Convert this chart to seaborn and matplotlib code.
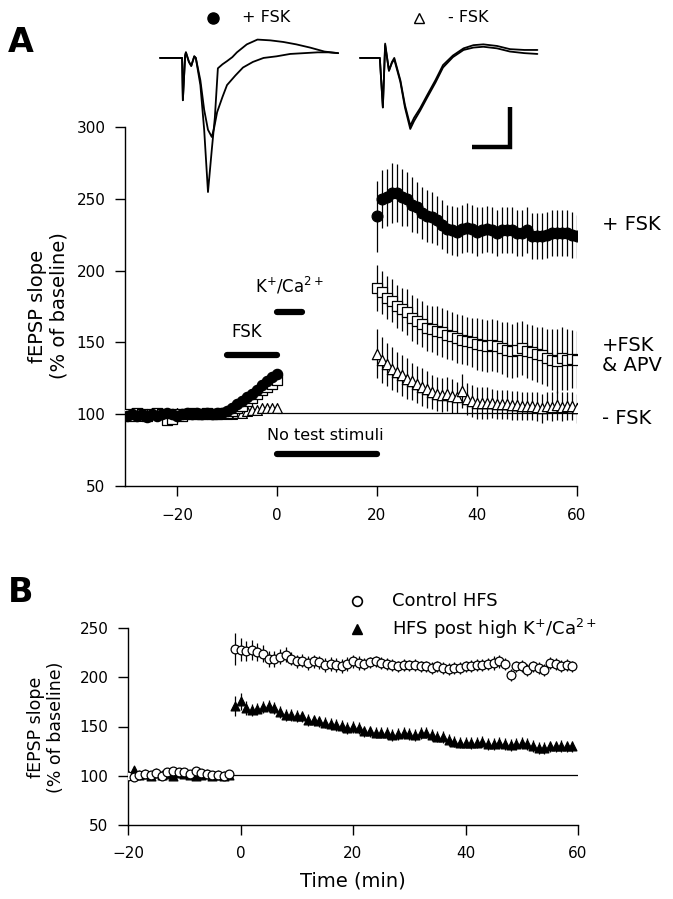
import numpy as np
import matplotlib.pyplot as plt
import seaborn as sns
from matplotlib.lines import Line2D

# ---- panel A, example traces (ms, mV) ----
tr1_post_t = [0, 2.9, 3.0, 3.3, 3.4, 3.8, 4.1, 4.5, 4.7, 5.3, 5.8, 6.3, 6.8, 7.2, 7.6, 8.2, 8.8, 9.5,
              10.1, 11.4, 12.8, 14.5, 16.2, 17.9, 19.7, 21.6, 23.4]
tr1_post_v = [0, 0, -0.53, 0.03, 0.07, -0.05, -0.10, 0.02, 0.0, -0.34, -0.90, -1.68, -1.15, -0.75, -0.13,
              -0.08, -0.04, 0.01, 0.07, 0.17, 0.23, 0.22, 0.20, 0.17, 0.13, 0.08, 0.06]
tr1_pre_t = [0, 2.9, 3.0, 3.3, 3.4, 3.8, 4.1, 4.5, 4.7, 5.3, 5.8, 6.3, 6.8, 7.1, 7.5, 8.2, 8.8, 9.9,
             10.9, 12.2, 13.6, 15.3, 17.1, 18.9, 20.7, 22.1, 23.4]
tr1_pre_v = [0, 0, -0.53, 0.03, 0.07, -0.05, -0.10, 0.02, 0.0, -0.28, -0.65, -0.90, -0.99, -0.88, -0.68,
             -0.49, -0.34, -0.22, -0.12, -0.05, 0.0, 0.02, 0.05, 0.06, 0.07, 0.07, 0.06]
tr2_t = [0, 2.6, 3.0, 3.3, 3.8, 4.2, 4.5, 5.3, 5.9, 6.6, 7.1, 7.9, 8.8, 9.9, 10.9, 12.2, 13.6, 14.9,
         16.2, 18.0, 19.7, 21.6, 23.3]
tr2_post_v = [0, 0, -0.62, 0.18, -0.16, -0.05, 0, -0.28, -0.59, -0.85, -0.75, -0.63, -0.47, -0.28,
              -0.09, 0.03, 0.12, 0.16, 0.17, 0.15, 0.11, 0.10, 0.10]
tr2_pre_v = [0, 0, -0.62, 0.16, -0.16, -0.06, -0.02, -0.30, -0.62, -0.89, -0.79, -0.66, -0.50, -0.31,
             -0.12, 0.01, 0.10, 0.13, 0.14, 0.12, 0.08, 0.06, 0.05]
bar_ms = 5
bar_mv = 0.5

# ---- panel A, fEPSP slope (% of baseline) ----
time_base_a = list(range(-30, 1))
time_post_a = list(range(20, 61))
fsk_base = [99, 100, 99, 100, 98, 100, 99, 100, 101, 100, 99, 100, 101, 100, 101, 100, 101, 100, 101, 101,
            102, 104, 107, 109, 112, 114, 117, 120, 123, 126, 128]
fsk_post = [237.7, 250, 251, 254, 254, 251, 250, 246, 244, 240, 238, 237, 235, 232, 229, 228, 227, 229, 230,
            229, 227, 228, 229, 228, 226, 228, 228, 228, 226, 226, 228, 224, 224, 224, 225, 226, 226, 226,
            226, 225, 224]
fsk_err = [25, 20, 20, 21, 20, 20, 19, 19, 18, 18, 18, 18, 17, 17, 17, 17, 17, 17, 17, 17, 17,
           16, 16, 16, 16, 16, 16, 16, 16, 16, 16, 16, 16, 16, 16, 16, 16, 16, 16, 16, 15]
apv_base = [100, 99, 101, 100, 99, 100, 101, 100, 96, 97, 100, 99, 100, 101, 100, 100, 101, 100, 100, 101,
            101, 102, 104, 106, 109, 111, 114, 117, 119, 121, 124]
apv_post = [188, 185, 181, 179, 175, 173, 171, 167, 165, 162.5, 160, 159, 158, 157, 155.5, 154.5, 153, 152,
            151, 150, 149, 148.4, 147.5, 148.4, 147.5, 146, 145, 144, 145, 146, 144, 143, 141.7, 141, 139.4,
            138, 137, 139, 138, 138.5, 138]
apv_err = [16, 15, 15, 15, 15, 15, 16, 16, 16, 16, 16, 16, 17, 17, 17, 17, 17, 17, 17, 17,
           18, 18, 18, 18, 18, 18, 19, 19, 19, 19, 19, 19, 19, 20, 20, 21, 22, 22, 21, 20, 20]
nofsk_base = [100, 101, 100, 99, 100, 101, 100, 100, 99, 100, 101, 100, 100, 101, 100, 100, 101, 100, 100, 100,
              100, 100, 101, 101, 102, 103, 103, 104, 104, 104, 104]
nofsk_post = [142, 138, 134.7, 131.7, 129.4, 127, 124.8, 123, 120.8, 119, 117.4, 115.5, 114, 113.2, 114, 112.7,
              111.7, 116, 110.4, 109.2, 108, 108, 107.6, 107.6, 107, 107, 107, 106.3, 106.3, 105.8, 105.8,
              105.8, 105.3, 104, 105.8, 105.3, 106.3, 105.3, 105.8, 105.8, 104]
nofsk_err = [17, 16, 15, 15, 14, 14, 14, 13, 13, 13, 13, 12, 12, 12, 12, 12, 11, 12, 11, 11,
             11, 11, 11, 10, 10, 10, 10, 10, 10, 10, 10, 10, 10, 10, 10, 10, 10, 10, 10, 10, 10]

# ---- panel B ----
time_base_b = list(range(-20, -1))
time_post_b = list(range(-1, 60))
ctrl_base = [100, 99, 101, 102, 101, 103, 100, 104, 105, 104, 104, 102, 105, 103, 102, 101, 101, 100, 102]
hfs_base = [101, 106, 101, 102, 100, 103, 101, 102, 100, 103, 102, 101, 100, 101, 102, 100, 101, 100, 101]
ctrl_post = [228.6, 228, 227, 228, 226, 224, 218.5, 218.5, 221, 223, 219, 216, 217, 214.4, 216, 215, 212.7,
             213.7, 212.7, 211.7, 213.7, 216, 214.4, 213.7, 215, 216, 214.4, 213.4, 212.7, 211, 212.7, 212,
             212.7, 211, 211, 209.3, 211, 209.3, 208.3, 209.3, 209.3, 211, 211.7, 212.7, 212.7, 213.7, 214.4,
             216, 213.7, 202.5, 211, 211.7, 207.6, 211, 209.3, 207.6, 214.4, 213.7, 211.7, 212.7, 211]
ctrl_err = [16, 12, 10, 10, 9, 9, 8, 8, 8, 8, 7, 7, 7, 7, 7, 7, 7, 7, 7, 7,
            7, 7, 7, 6, 6, 6, 6, 6, 6, 6, 6, 6, 6, 6, 6, 6, 6, 6, 6, 6,
            6, 6, 6, 6, 6, 6, 7, 7, 6, 6, 6, 6, 6, 6, 6, 6, 6, 6, 6, 6, 6]
hfs_post = [171, 175.4, 168.6, 167, 168, 170, 171, 169, 165, 162, 161.5, 160.8, 160.2, 156.8, 156.1, 155.1,
            154, 152.7, 151.7, 150.7, 148.3, 149.3, 148.3, 145, 145, 143.9, 143.9, 143.2, 141.5, 142.5, 143.2,
            142.5, 141.5, 143.2, 143.9, 141.5, 139.8, 139.2, 136.4, 134.7, 133.7, 133.7, 133, 133.7, 134.7,
            132.4, 132.4, 133, 132.4, 131.4, 132.4, 133, 132.4, 130.3, 128, 128, 129.7, 129.7, 130.3, 129.7,
            129.7]
hfs_err = [10, 9, 7, 6, 6, 6, 6, 6, 6, 6, 6, 6, 6, 6, 6, 6, 6, 6, 6, 6,
           6, 6, 6, 6, 6, 6, 6, 6, 6, 6, 6, 6, 6, 6, 6, 6, 6, 6, 6, 6,
           6, 6, 6, 6, 6, 6, 6, 6, 6, 6, 6, 6, 6, 6, 6, 6, 6, 6, 6, 6, 6]

sns.set_style('ticks')
plt.rcParams['font.family'] = ['DejaVu Sans']
plt.rcParams['axes.linewidth'] = 1.0
for key in ['text.color', 'axes.labelcolor', 'xtick.color', 'ytick.color', 'axes.edgecolor']:
    plt.rcParams[key] = 'black'

W, H = 673, 899
fig = plt.figure(figsize=(W / 100, H / 100), dpi=100)


def box(x0, y0, x1, y1):
    # pixel box (top-left origin) -> figure fraction rect
    return [x0 / W, 1 - y1 / H, (x1 - x0) / W, (y1 - y0) / H]


def series(ax, t, v, err, marker, face, size, z):
    t = np.asarray(t, float)
    v = np.asarray(v, float)
    if err is not None:
        e = np.asarray(err, float)
        ax.vlines(t, v - e, v + e, color='black', lw=0.9, zorder=z)
    sns.scatterplot(x=t, y=v, marker=marker, s=size, color=face, edgecolor='black',
                    linewidth=0.9, ax=ax, zorder=z + 0.5, legend=False)


# ---------------- panel A ----------------
axA = fig.add_axes(box(125, 127, 577, 486))
axA.set_facecolor('none')
axA.hlines(101, 0, 60, color='black', lw=0.9, zorder=1)
# baseline: open symbols underneath, filled circles on top
series(axA, time_base_a, nofsk_base, None, '^', 'white', 50, 3)
series(axA, time_base_a, apv_base, None, 's', 'white', 50, 4)
series(axA, time_base_a, fsk_base, None, 'o', 'black', 55, 5)
series(axA, time_post_a, fsk_post, fsk_err, 'o', 'black', 60, 3)
series(axA, time_post_a, apv_post, apv_err, 's', 'white', 55, 4)
series(axA, time_post_a, nofsk_post, nofsk_err, '^', 'white', 55, 5)

axA.set_xlim(-30.4, 60)
axA.set_ylim(50, 300)
axA.set_xticks([-20, 0, 20, 40, 60])
axA.set_yticks([50, 100, 150, 200, 250, 300])
axA.tick_params(direction='out', length=7, width=1, labelsize=11, pad=7)
axA.tick_params(axis='x', pad=9)
sns.despine(ax=axA)

# treatment bars
for x0, x1, y in [(-10, 0, 141), (0, 5, 171), (0, 20, 72)]:
    axA.plot([x0, x1], [y, y], color='black', lw=4.5, solid_capstyle='round')
axA.text(-6, 157, 'FSK', ha='center', va='center', fontsize=12)
axA.text(2.6, 189, r'K$^{+}$/Ca$^{2+}$', ha='center', va='center', fontsize=12)
axA.text(9.6, 85, 'No test stimuli', ha='center', va='center', fontsize=11.5)

# right-hand labels
axA.text(65, 232, '+ FSK', ha='left', va='center', fontsize=14, clip_on=False)
axA.text(65, 141, '+FSK\n& APV', ha='left', va='center', fontsize=14, clip_on=False, linespacing=1.1)
axA.text(65, 97, '- FSK', ha='left', va='center', fontsize=14, clip_on=False)

fig.text(48 / W, 1 - 306 / H, 'fEPSP slope\n(% of baseline)', rotation=90, ha='center', va='center',
         fontsize=14, linespacing=1.15)

# ---------------- traces (drawn above panel A) ----------------
for left, curves in [(155, [(tr1_post_t, tr1_post_v), (tr1_pre_t, tr1_pre_v)]),
                     (355, [(tr2_t, tr2_post_v), (tr2_t, tr2_pre_v)])]:
    tax = fig.add_axes(box(left, 30, left + 190, 200))
    tax.set_facecolor('none')
    for tt, vv in curves:
        sns.lineplot(x=tt, y=vv, ax=tax, color='black', lw=1.3, sort=False, estimator=None)
    tax.set_xlim(-0.66, 24.3)
    tax.set_ylim(-1.78, 0.35)
    tax.axis('off')
    if left == 355:
        cx, cy = 19.7, -1.12
        tax.plot([cx - bar_ms, cx, cx], [cy, cy, cy + bar_mv], color='black', lw=3.2,
                 solid_joinstyle='miter', solid_capstyle='butt')

# top key
fig.add_artist(Line2D([213 / W], [1 - 18 / H], marker='o', ms=8, color='black', transform=fig.transFigure))
fig.text(242 / W, 1 - 18 / H, '+ FSK', ha='left', va='center', fontsize=11.5)
fig.add_artist(Line2D([419 / W], [1 - 18 / H], marker='^', ms=7, mfc='white', mec='black', mew=1,
                      transform=fig.transFigure))
fig.text(448 / W, 1 - 18 / H, '- FSK', ha='left', va='center', fontsize=11.5)

fig.text(21 / W, 1 - 42 / H, 'A', ha='center', va='center', fontsize=24, fontweight='bold')
fig.text(21 / W, 1 - 593 / H, 'B', ha='center', va='center', fontsize=24, fontweight='bold')

# ---------------- panel B ----------------
axB = fig.add_axes(box(128, 628, 578, 825))
axB.hlines(101, -1.5, 60, color='black', lw=0.9, zorder=1)
series(axB, time_base_b, hfs_base, None, '^', 'black', 40, 3)
series(axB, time_base_b, ctrl_base, None, 'o', 'white', 40, 4)
series(axB, time_post_b, hfs_post, hfs_err, '^', 'black', 40, 3)
series(axB, time_post_b, ctrl_post, ctrl_err, 'o', 'white', 40, 4)

axB.set_xlim(-20, 60)
axB.set_ylim(50, 250)
axB.set_xticks([-20, 0, 20, 40, 60])
axB.set_yticks([50, 100, 150, 200, 250])
axB.tick_params(direction='out', length=7, width=1, labelsize=11, pad=7)
axB.tick_params(axis='x', pad=8)
sns.despine(ax=axB)
axB.set_xlabel('Time (min)', fontsize=14, labelpad=8)

fig.text(46 / W, 1 - 727 / H, 'fEPSP slope\n(% of baseline)', rotation=90, ha='center', va='center',
         fontsize=12.5, linespacing=1.15)

fig.add_artist(Line2D([357 / W], [1 - 601 / H], marker='o', ms=7, mfc='white', mec='black', mew=1.2,
                      transform=fig.transFigure))
fig.text(392 / W, 1 - 601 / H, 'Control HFS', ha='left', va='center', fontsize=13)
fig.add_artist(Line2D([357 / W], [1 - 629 / H], marker='^', ms=7, color='black', transform=fig.transFigure))
fig.text(392 / W, 1 - 629 / H, r'HFS post high K$^{+}$/Ca$^{2+}$', ha='left', va='center', fontsize=13)

fig.savefig('out.png', dpi=100)
